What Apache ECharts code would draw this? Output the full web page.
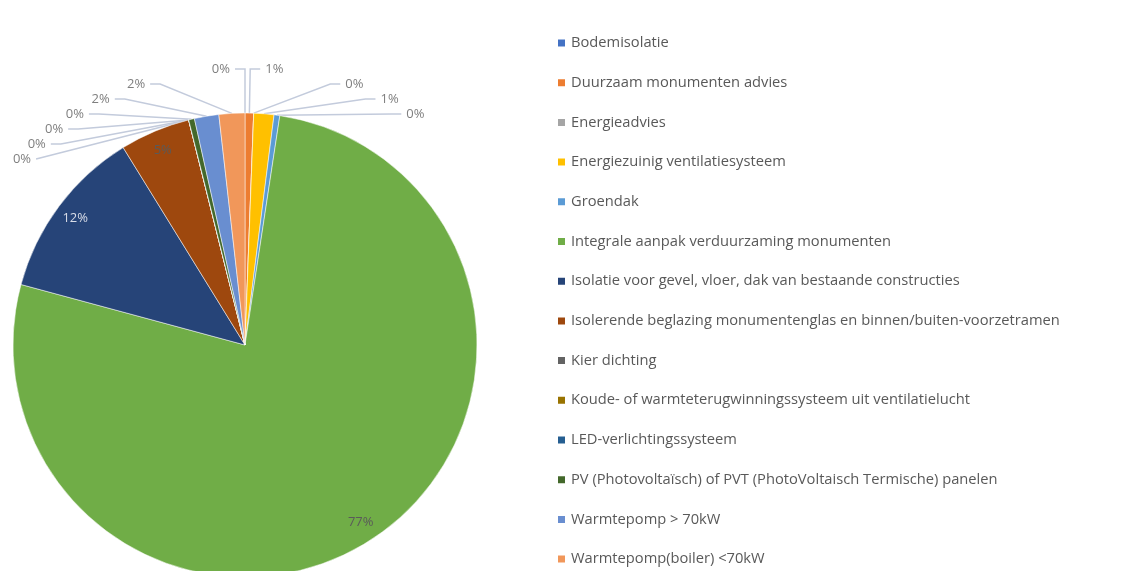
<!DOCTYPE html>
<html>
<head>
<meta charset="utf-8">
<script src="https://cdn.jsdelivr.net/npm/echarts@6/dist/echarts.min.js"></script>
<style>html,body{margin:0;padding:0;background:#fff;}#c{width:1122px;height:571px;}</style>
</head>
<body>
<div id="c"></div>
<script>
const categories = [
  "Bodemisolatie",
  "Duurzaam monumenten advies",
  "Energieadvies",
  "Energiezuinig ventilatiesysteem",
  "Groendak",
  "Integrale aanpak verduurzaming monumenten",
  "Isolatie voor gevel, vloer, dak van bestaande constructies",
  "Isolerende beglazing monumentenglas en binnen/buiten-voorzetramen",
  "Kier dichting",
  "Koude- of warmteterugwinningssysteem uit ventilatielucht",
  "LED-verlichtingssysteem",
  "PV (Photovoltaïsch) of PVT (PhotoVoltaisch Termische) panelen",
  "Warmtepomp > 70kW",
  "Warmtepomp(boiler) <70kW"
];
const values = [0, 0.6, 0, 1.4, 0.4, 76.8, 12.0, 4.9, 0, 0, 0, 0.4, 1.7, 1.8];
const colors = ["#4472C4","#ED7D31","#A5A5A5","#FFC000","#5B9BD5","#70AD47","#264478","#9E480E","#636363","#997300","#255E91","#43682B","#698ED0","#F1975A"];
const insideSet = [5, 6, 7];

const chart = echarts.init(document.getElementById('c'), null, {renderer: 'canvas'});
const fmt = p => Math.round(p.percent) + '%';
const center = [245, 345];
const R = 232;

const mainData = categories.map((n, i) => ({
  name: n, value: values[i],
  itemStyle: {color: colors[i]},
  label: {show: !insideSet.includes(i)},
  labelLine: {show: !insideSet.includes(i)}
}));
const labelData = categories.map((n, i) => ({
  name: n, value: values[i],
  label: {show: insideSet.includes(i), color: i === 6 ? '#d9dde8' : '#5a5a5a'}
}));

chart.setOption({
  animation: false,
  legend: {
    orient: 'vertical', left: 551, top: 30, height: 560,
    icon: 'rect', itemWidth: 9, itemHeight: 9, itemGap: 23.7,
    textStyle: {fontFamily: 'Open Sans', fontSize: 14.7, color: '#595959', lineHeight: 16},
    data: categories
  },
  series: [
    {
      type: 'pie', center: center, radius: [0, R], startAngle: 90, clockwise: true,
      data: mainData,
      itemStyle: {borderColor: '#fff', borderWidth: 0.5},
      label: {position: 'outside', formatter: fmt, fontFamily: 'Open Sans', fontSize: 13, color: '#7f7f7f', overflow: 'none'},
      labelLine: {length: 44, length2: 10, lineStyle: {color: '#c3cbdc', width: 1.5}},
      emphasis: {disabled: true}
    },
    {
      type: 'pie', center: center, radius: [R * 0.8, R], startAngle: 90, clockwise: true,
      data: labelData, silent: true, legendHoverLink: false,
      itemStyle: {color: 'rgba(0,0,0,0)'},
      label: {position: 'inside', formatter: fmt, fontFamily: 'Open Sans', fontSize: 13},
      labelLine: {show: false},
      emphasis: {disabled: true}
    }
  ]
});
</script>
</body>
</html>
